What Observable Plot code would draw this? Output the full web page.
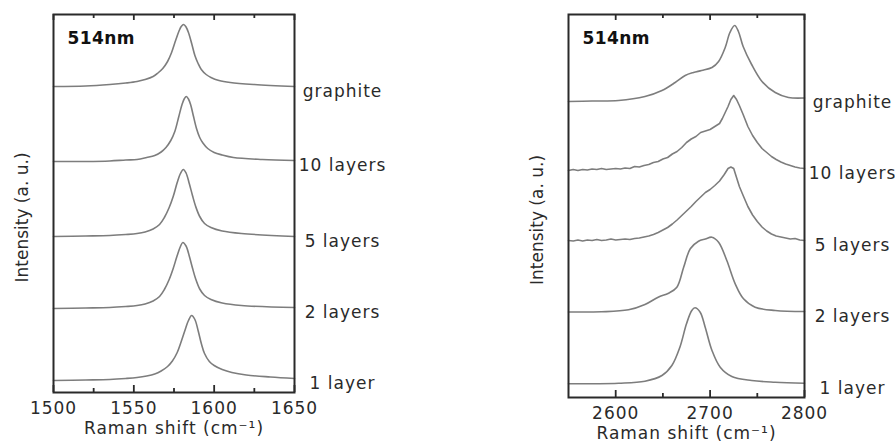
<!DOCTYPE html>
<html><head><meta charset="utf-8">
<script src="https://cdn.jsdelivr.net/npm/d3@7"></script>
<script src="https://cdn.jsdelivr.net/npm/@observablehq/plot@0.6"></script>
<style>
body{margin:0;background:#fff;}
#wrap{display:flex;width:895px;height:443px;background:#fff;}
</style></head><body><div id="wrap"></div>
<script>
// ---- data (Raman shift in cm^-1, intensity in a.u. with vertical stacking offset) ----
const labels = ["graphite", "10 layers", "5 layers", "2 layers", "1 layer"];
const tag = "514nm";
const xLabel = "Raman shift (cm⁻¹)";
const yLabel = "Intensity (a. u.)";

// G band (left panel)
const gGraphite = [[1500,306],[1520,306.5],[1535,308],[1545,309.5],[1552,311],[1557,313],[1562,316],[1565,319.5],[1568,324],[1571,331],[1573.5,340],[1576,352],[1578,361],[1579.5,366],[1581,368],[1582.5,365.5],[1584,360],[1586,349],[1588,337],[1590,329],[1592,323],[1595,318],[1598,315],[1603,312],[1610,310],[1625,308],[1650,306]];
const g10 = [[1500,231],[1520,231],[1535,231.5],[1545,232.5],[1552,233],[1558,235],[1563,237],[1567,240.5],[1570,245],[1573,252],[1575.5,261],[1578,276],[1580,288],[1581.5,294],[1582.7,296],[1584,293.5],[1585.5,287],[1587,277],[1589,264],[1591,255],[1593,249.5],[1596,244],[1600,240],[1605,237.5],[1612,235],[1630,233],[1650,232]];
const g5 = [[1500,156],[1520,156.5],[1535,157],[1545,158],[1552,159],[1557,160.5],[1562,163.5],[1566,168],[1569,175],[1572,185],[1574.5,196],[1577,210],[1579,219],[1580.8,223],[1582.5,219.5],[1584.5,209],[1586.5,197],[1588.5,186],[1591,176],[1594,169],[1598,165],[1605,161.5],[1617,159],[1650,156]];
const g2 = [[1500,84],[1520,84.5],[1535,85],[1545,86],[1552,87],[1557,88.5],[1562,91.5],[1566,96],[1569,103],[1572,113],[1574.5,124],[1577,137],[1579,146],[1580.5,150],[1582.5,146.5],[1584.5,136.5],[1586.5,124.5],[1588.5,113.5],[1591,103.5],[1594,97],[1598,93],[1605,89.5],[1617,87],[1650,85]];
const g1 = [[1500,12],[1520,12.5],[1535,13],[1545,14],[1552,15],[1558,16.5],[1563,18.5],[1567,21.5],[1571,26],[1574,31.5],[1577,40],[1579.5,51],[1582,63],[1584,72],[1586,77],[1588,73],[1590,62],[1592,49],[1594,39],[1597,31],[1600,27],[1605,23],[1611,20],[1620,17.5],[1635,15.5],[1650,14]];

// 2D band (right panel)
const dGraphite = [[2550,296],[2575,296.5],[2603,297],[2631,301],[2649,307],[2663,315],[2673.6,322],[2682.4,325],[2691,327],[2702,330],[2709,336],[2716,350],[2721,365],[2726,372],[2730,366],[2735,351],[2744,333],[2755,316],[2769,305],[2783,300],[2800,299.5]];
const d10 = [[2550,227],[2555,228],[2560,227],[2565,228],[2570,227.5],[2575,228.5],[2580,228],[2585,229],[2590,228],[2595,228.5],[2600,229],[2605,228.5],[2610,229.5],[2615,229],[2620,231],[2625,230.5],[2630,232],[2635,233],[2640,235],[2645,236],[2650,238.5],[2655,240],[2660,243.5],[2665,246],[2670,250],[2675,255],[2680,258.5],[2685,261],[2690,265],[2695,266.5],[2700,268],[2705,271],[2710,274],[2713,279],[2716,285],[2719,291],[2722,298],[2725,302],[2728,298],[2731,292],[2735,283],[2740,271],[2745,262],[2750,255],[2755,249],[2760,245],[2765,241],[2770,238],[2775,235.5],[2780,233.5],[2785,232],[2790,230.5],[2795,229.5],[2800,229]];
const d5 = [[2550,157],[2555,156.5],[2560,157.5],[2565,156.5],[2570,157.5],[2575,157],[2580,158],[2585,157],[2590,157.5],[2595,158.5],[2600,157.5],[2605,158],[2610,158.5],[2615,158],[2620,159],[2625,159.5],[2630,160.5],[2635,161.5],[2640,163],[2645,165],[2650,167.5],[2655,170],[2660,173.5],[2665,177.5],[2670,182],[2675,186.5],[2680,191],[2685,196],[2690,200.5],[2695,205],[2700,208],[2705,212],[2710,216.5],[2715,223],[2719,229],[2722,230.5],[2725,229],[2728,220],[2731,211],[2735,202],[2740,191],[2745,182.5],[2750,176],[2755,170.5],[2760,166.5],[2765,163.5],[2770,161.5],[2775,160.5],[2780,159.5],[2785,158.5],[2790,159],[2795,157.5],[2800,157]];
const d2 = [[2550,85.5],[2585,85.7],[2613.6,87.7],[2631,93],[2645,100.3],[2656,104.3],[2664.8,110.3],[2672,130.3],[2679,148.7],[2687.7,156.3],[2695,158.5],[2701.8,160.3],[2709,155.3],[2717.7,137],[2726.6,113.7],[2735.4,98.7],[2747.7,90.3],[2769,87],[2800,86]];
const d1 = [[2550,13.7],[2603,14.3],[2631,16.3],[2649,22],[2659.5,32],[2668,50.3],[2675,73.7],[2680.6,87],[2684,89.7],[2689.5,85.3],[2694.8,70.3],[2702,47],[2710.7,30.3],[2723,21],[2744,17],[2769,15.3],[2800,14.3]];

const gDomain = [1500, 1650], gMajor = [1500, 1550, 1600, 1650], gMinor = [1525, 1575, 1625];
const dDomain = [2550, 2800], dMajor = [2600, 2700, 2800], dMinor = [2650, 2750];

// ---- drawing ----
const FONT = "DejaVu Sans";
function panel({width, ml, mr, mb, domain, yMax, series, curves, majors, minors}) {
  const H = 443, mt = 14;
  const innerH = H - mt - mb;
  const ink = "#2a2a2a";
  const marks = [];
  series.forEach((s, i) => {
    marks.push(Plot.line(s, {x: d => d[0], y: d => d[1], stroke: "#7d7d7d", strokeWidth: 1.6, curve: curves[i]}));
  });
  const tk = {x: d => d, stroke: ink, strokeWidth: 1.8};
  marks.push(
    Plot.tickX(majors, {...tk, insetTop: innerH - 7}),
    Plot.tickX(minors, {...tk, insetTop: innerH - 4}),
    Plot.tickX(majors, {...tk, insetBottom: innerH - 6}),
    Plot.tickX(minors, {...tk, insetBottom: innerH - 4}),
    Plot.axisX({ticks: majors, tickSize: 0, tickPadding: 9, tickFormat: d => String(d), label: null, fontSize: 17, fill: ink}),
    Plot.frame({stroke: ink, strokeWidth: 2}),
    Plot.text(labels, {x: () => domain[1], y: (d, i) => series[i][series[i].length - 1][1], dx: 48, dy: 5, textAnchor: "middle", fontSize: 17, fill: ink}),
    Plot.text([tag], {frameAnchor: "top-left", dx: 14, dy: 17, lineAnchor: "top", textAnchor: "start", fontWeight: "bold", fontSize: 17, fill: "#111"}),
    Plot.text([xLabel], {frameAnchor: "bottom", dy: 36, lineAnchor: "middle", textAnchor: "middle", fontSize: 17, fill: ink}),
    Plot.text([yLabel], {frameAnchor: "left", dx: -31, dy: 14, rotate: -90, lineAnchor: "middle", textAnchor: "middle", fontSize: 17, fill: ink})
  );
  const svg = Plot.plot({
    width, height: H, marginLeft: ml, marginRight: mr, marginTop: mt, marginBottom: mb,
    x: {domain, axis: null},
    y: {domain: [0, yMax], axis: null},
    style: {fontFamily: FONT, fontSize: "17px", background: "#fff", letterSpacing: "1px", overflow: "visible"},
    marks
  });
  d3.select(svg).selectAll("text").filter(function() { return this.textContent.startsWith("Intensity"); }).style("letter-spacing", "0px");
  d3.select(svg).selectAll("text").filter(function() { return this.textContent === tag; }).style("letter-spacing", "0.4px");
  return svg;
}

const wrap = document.getElementById("wrap");
wrap.appendChild(panel({width: 450, ml: 53, mr: 156, mb: 51, domain: gDomain, yMax: 378,
  series: [gGraphite, g10, g5, g2, g1], curves: ["catmull-rom","catmull-rom","catmull-rom","catmull-rom","catmull-rom"],
  majors: gMajor, minors: gMinor}));
wrap.appendChild(panel({width: 445, ml: 118, mr: 91, mb: 46, domain: dDomain, yMax: 383,
  series: [dGraphite, d10, d5, d2, d1], curves: ["catmull-rom","linear","linear","catmull-rom","catmull-rom"],
  majors: dMajor, minors: dMinor}));
</script></body></html>
